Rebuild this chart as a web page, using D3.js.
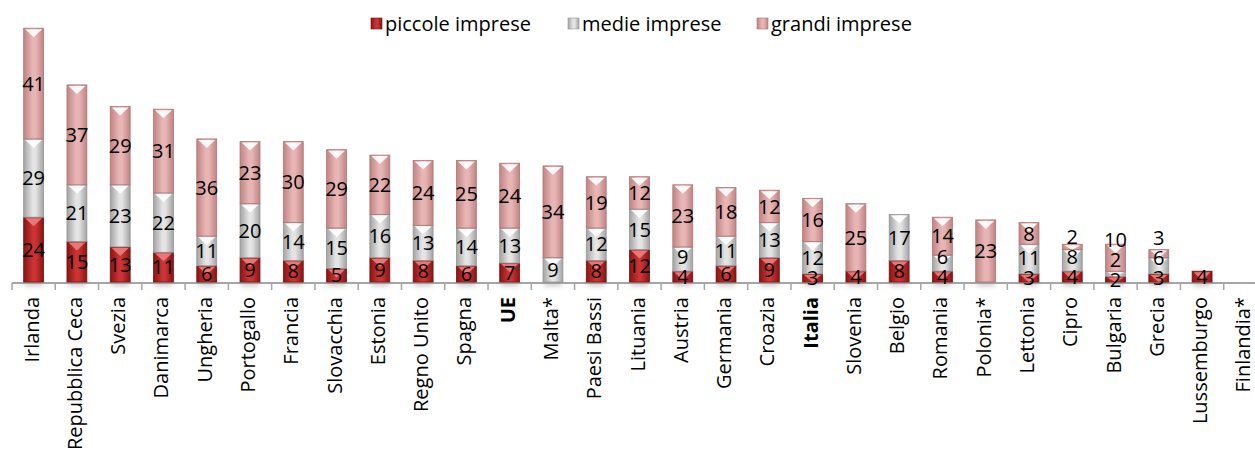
<!DOCTYPE html>
<html>
<head>
<meta charset="utf-8">
<script src="https://cdn.jsdelivr.net/npm/d3@7"></script>
<style>
  body { margin: 0; background: #fff; }
  svg { display: block; font-family: "Open Sans", sans-serif; }
</style>
</head>
<body>
<div class="chart"></div>
<script>
const categories = ["Irlanda", "Repubblica Ceca", "Svezia", "Danimarca", "Ungheria", "Portogallo",
  "Francia", "Slovacchia", "Estonia", "Regno Unito", "Spagna", "UE", "Malta*", "Paesi Bassi",
  "Lituania", "Austria", "Germania", "Croazia", "Italia", "Slovenia", "Belgio", "Romania",
  "Polonia*", "Lettonia", "Cipro", "Bulgaria", "Grecia", "Lussemburgo", "Finlandia*"];
const piccole = [24, 15, 13, 11, 6, 9, 8, 5, 9, 8, 6, 7, 0, 8, 12, 4, 6, 9, 3, 4, 8, 4, 0, 3, 4, 2, 3, 4, 0];
const medie   = [29, 21, 23, 22, 11, 20, 14, 15, 16, 13, 14, 13, 9, 12, 15, 9, 11, 13, 12, 0, 17, 6, 0, 11, 8, 2, 6, 0, 0];
const grandi  = [41, 37, 29, 31, 36, 23, 30, 29, 22, 24, 25, 24, 34, 19, 12, 23, 18, 12, 16, 25, 0, 14, 23, 8, 2, 10, 3, 0, 0];
const seriesNames = ["piccole imprese", "medie imprese", "grandi imprese"];
const boldCats = ["UE", "Italia"];

const width = 1255, height = 452;
const baseY = 282;

const rows = categories.map((c, i) => ({ cat: c, s0: piccole[i], s1: medie[i], s2: grandi[i] }));
const keys = ["s0", "s1", "s2"];
const stacked = d3.stack().keys(keys)(rows);

const x = d3.scaleBand()
  .domain(categories)
  .range([12, 1267])
  .paddingInner(0.54)
  .paddingOuter(0.27);

const y = d3.scaleLinear().domain([0, 100]).range([baseY, baseY - 270]);

// edge / centre / chevron colours per series
const palette = [
  { edge: "#861515", mid: "#cc3333", stroke: "#761212", chev: "#ea8080" },
  { edge: "#a3a3a3", mid: "#e4e4e4", stroke: "#959595", chev: "#ffffff" },
  { edge: "#c08484", mid: "#e8b5b5", stroke: "#b07474", chev: "#ffffff" }
];

const svg = d3.select(".chart").append("svg")
  .attr("width", width)
  .attr("height", height);

const defs = svg.append("defs");
palette.forEach(function(p, i) {
  const g = defs.append("linearGradient")
    .attr("id", "grad" + i)
    .attr("x1", 0).attr("x2", 1).attr("y1", 0).attr("y2", 0);
  g.append("stop").attr("offset", "0%").attr("stop-color", p.edge);
  g.append("stop").attr("offset", "45%").attr("stop-color", p.mid);
  g.append("stop").attr("offset", "60%").attr("stop-color", p.mid);
  g.append("stop").attr("offset", "100%").attr("stop-color", p.edge);
});
const shadow = defs.append("filter").attr("id", "blur").attr("x", -0.5).attr("y", -2).attr("width", 2).attr("height", 5);
shadow.append("feGaussianBlur").attr("stdDeviation", 2.5);

// axis line and ticks
const axisG = svg.append("g");
axisG.append("line")
  .attr("x1", x.range()[0]).attr("x2", x.range()[1])
  .attr("y1", baseY + 1).attr("y2", baseY + 1)
  .attr("stroke", "#a6a6a6")
  .attr("stroke-width", 2);
const step = x.step();
axisG.selectAll("line.tick")
  .data(d3.range(categories.length + 1))
  .enter()
  .append("line")
  .attr("class", "tick")
  .attr("x1", d => x.range()[0] + d * step)
  .attr("x2", d => x.range()[0] + d * step)
  .attr("y1", baseY + 1)
  .attr("y2", baseY + 8)
  .attr("stroke", "#a6a6a6")
  .attr("stroke-width", 1.5);

const bw = x.bandwidth();

// soft shadow under each bar
svg.append("g").selectAll("rect")
  .data(rows.filter(r => r.s0 + r.s1 + r.s2 > 0))
  .enter()
  .append("rect")
  .attr("x", d => x(d.cat) + 1)
  .attr("y", baseY - 1)
  .attr("width", bw - 2)
  .attr("height", 5)
  .attr("fill", "#888")
  .attr("opacity", 0.45)
  .attr("filter", "url(#blur)");

// bars
const layer = svg.append("g").selectAll("g")
  .data(stacked)
  .enter()
  .append("g");

const seg = layer.selectAll("g")
  .data(function(d, i) {
    return d.filter(s => s[1] - s[0] > 0).map(s => ({ s: s, k: i }));
  })
  .enter()
  .append("g");

seg.append("rect")
  .attr("x", d => x(d.s.data.cat))
  .attr("y", d => y(d.s[1]))
  .attr("width", bw)
  .attr("height", d => y(d.s[0]) - y(d.s[1]))
  .attr("fill", d => "url(#grad" + d.k + ")")
  .attr("stroke", d => palette[d.k].stroke)
  .attr("stroke-width", 0.8);

seg.append("path")
  .attr("d", function(d) {
    const x0 = x(d.s.data.cat);
    const top = y(d.s[1]);
    const h = Math.min(8, (y(d.s[0]) - top) - 1);
    return "M" + (x0 + 1.5) + "," + (top + 1) +
      "L" + (x0 + bw - 1.5) + "," + (top + 1) +
      "L" + (x0 + bw / 2) + "," + (top + 1 + h) + "Z";
  })
  .attr("fill", d => palette[d.k].chev)
  .attr("opacity", 0.9);

// value labels, pushed up when they would overlap
const labelData = [];
rows.forEach(function(r) {
  let prevY = null;
  keys.forEach(function(k, i) {
    const s = stacked[i].find(e => e.data.cat === r.cat);
    const v = s[1] - s[0];
    if (v <= 0) return;
    let ly = (y(s[0]) + y(s[1])) / 2;
    if (prevY !== null && ly > prevY - 20) ly = prevY - 20;
    prevY = ly;
    labelData.push({ cat: r.cat, v: v, y: ly });
  });
});

svg.append("g").selectAll("text")
  .data(labelData)
  .enter()
  .append("text")
  .attr("x", d => x(d.cat) + bw / 2)
  .attr("y", d => d.y)
  .attr("dy", "0.36em")
  .attr("text-anchor", "middle")
  .style("font-size", "20px")
  .style("fill", "#000")
  .text(d => d.v);

// category labels
svg.append("g").selectAll("text")
  .data(categories)
  .enter()
  .append("text")
  .attr("transform", d => "translate(" + (x(d) + bw / 2 - 2) + "," + 297 + ") rotate(-90)")
  .attr("dy", "0.35em")
  .attr("text-anchor", "end")
  .style("font-size", "20px")
  .style("font-weight", d => boldCats.includes(d) ? "bold" : "normal")
  .style("fill", "#000")
  .text(d => d);

// legend
const legendX = [371, 568, 757];
const legend = svg.append("g").selectAll("g")
  .data(seriesNames)
  .enter()
  .append("g")
  .attr("transform", (d, i) => "translate(" + legendX[i] + ",0)");
legend.append("rect")
  .attr("x", 0).attr("y", 18)
  .attr("width", 11).attr("height", 11)
  .attr("fill", (d, i) => "url(#grad" + i + ")")
  .attr("stroke", (d, i) => palette[i].stroke)
  .attr("stroke-width", 0.6);
legend.append("text")
  .attr("x", 14)
  .attr("y", 31)
  .style("font-size", "20px")
  .style("fill", "#000")
  .text(d => d);
</script>
</body>
</html>
